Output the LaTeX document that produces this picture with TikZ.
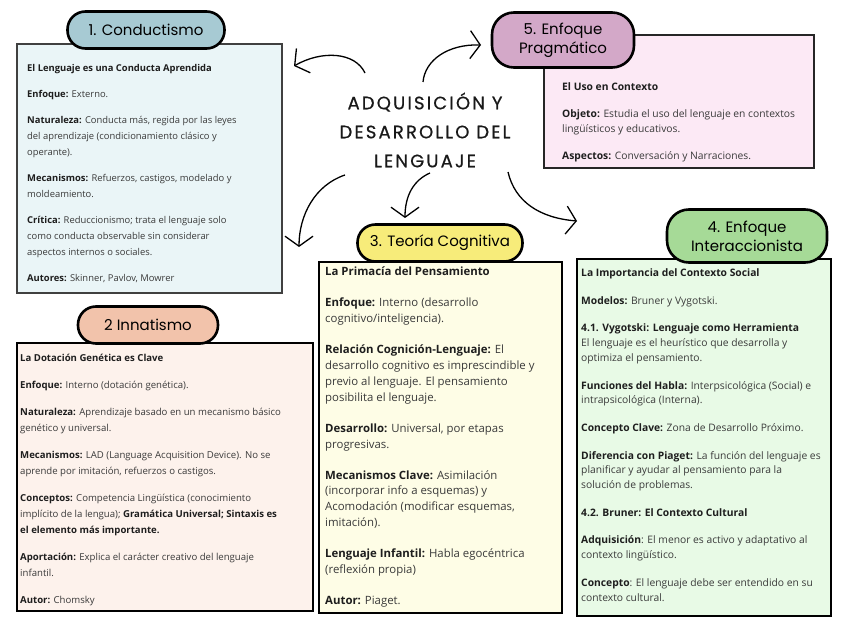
\documentclass[tikz,border=0pt]{standalone}
\usepackage{fontspec}
\setmainfont{Open Sans}
\newfontfamily\hand{Poppins}
\newfontfamily\bigtitle[LetterSpace=12,FakeBold=0.6]{Poppins}
\usetikzlibrary{arrows.meta}
\definecolor{bgA}{HTML}{EAF5F7}\definecolor{pA}{HTML}{A7CAD3}
\definecolor{bgB}{HTML}{FDF2EC}\definecolor{pB}{HTML}{F2C3AB}
\definecolor{bgC}{HTML}{FEFDE6}\definecolor{pC}{HTML}{F7EC7A}
\definecolor{bgD}{HTML}{E8FAE6}\definecolor{pD}{HTML}{A6DA97}
\definecolor{bgE}{HTML}{FCE9F5}\definecolor{pE}{HTML}{D3A8C8}
\definecolor{bodytxt}{HTML}{3A3A3A}
\definecolor{boldtxt}{HTML}{1E1E1E}
\newcommand{\lab}[1]{\textbf{\color{boldtxt}#1}}
\begin{document}
\begin{tikzpicture}[x=1pt,y=-1pt,
  boxnode/.style={draw=#1, anchor=north west, inner sep=0pt, line width=1.6pt},
  pill/.style={draw=black, line width=2.6pt, inner sep=0pt, align=center, text=black,
     font=\hand\fontsize{15}{18}\selectfont},
  txt/.style={anchor=north west, inner sep=0pt, align=left, text=bodytxt},
  arr/.style={line width=1.3pt, -{Straight Barb[length=10pt,width=28pt,line width=1.3pt]}}]
\useasboundingbox (0,0) rectangle (848,636);
\fill[white] (0,0) rectangle (848,636);

% boxes
\node[boxnode=black!75, fill=bgA, minimum width=265pt, minimum height=249pt] (b1) at (16,43) {};
\node[boxnode=black, fill=bgB, minimum width=296pt, minimum height=268pt, line width=2.2pt] (b2) at (16,342) {};
\node[boxnode=black, fill=bgC, minimum width=243pt, minimum height=351pt, line width=2.2pt] (b3) at (318,261) {};
\node[boxnode=black, fill=bgD, minimum width=254pt, minimum height=357pt, line width=2.2pt] (b4) at (576,258) {};
\node[boxnode=black!85, fill=bgE, minimum width=270pt, minimum height=133pt, line width=1.8pt] (b5) at (543,34) {};

% pills
\node[pill, fill=pA, minimum width=157pt, minimum height=37pt, rounded corners=18pt] (p1) at (146,30) {1. Conductismo};
\node[pill, fill=pB, minimum width=140pt, minimum height=37pt, rounded corners=18pt] (p2) at (148,325) {2 Innatismo};
\node[pill, fill=pC, minimum width=165pt, minimum height=37pt, rounded corners=18pt] (p3) at (440,243) {3. Teoría Cognitiva};
\node[pill, fill=pD, minimum width=160pt, minimum height=53pt, rounded corners=22pt, font=\hand\fontsize{15}{19}\selectfont] (p4) at (747,236) {4. Enfoque\\Interaccionista};
\node[pill, fill=pE, minimum width=142pt, minimum height=55pt, rounded corners=22pt, font=\hand\fontsize{15}{19}\selectfont] (p5) at (563,40) {5. Enfoque\\Pragmático};

% center title
\node[align=center, inner sep=0pt, font=\bigtitle\fontsize{18}{29}\selectfont, text=black!90] (title) at (425,130) {ADQUISICIÓN Y\\DESARROLLO DEL\\LENGUAJE};

% box texts
\node[txt, font=\fontsize{9.4}{16}\selectfont] (t1) at (27,64) {%
\lab{El Lenguaje es una Conducta Aprendida}\\[10pt]
\lab{Enfoque:} Externo.\\[10pt]
\lab{Naturaleza:} Conducta más, regida por las leyes\\
del aprendizaje (condicionamiento clásico y\\
operante).\\[10pt]
\lab{Mecanismos:} Refuerzos, castigos, modelado y\\
moldeamiento.\\[10pt]
\lab{Crítica:} Reduccionismo; trata el lenguaje solo\\
como conducta observable sin considerar\\
aspectos internos o sociales.\\[10pt]
\lab{Autores:} Skinner, Pavlov, Mowrer};

\node[txt, font=\fontsize{9.6}{16}\selectfont] (t2) at (20,354) {%
\lab{La Dotación Genética es Clave}\\[11pt]
\lab{Enfoque:} Interno (dotación genética).\\[11pt]
\lab{Naturaleza:} Aprendizaje basado en un mecanismo básico\\
genético y universal.\\[11pt]
\lab{Mecanismos:} LAD (Language Acquisition Device). No se\\
aprende por imitación, refuerzos o castigos.\\[11pt]
\lab{Conceptos:} Competencia Lingüística (conocimiento\\
implícito de la lengua); \lab{Gramática Universal; Sintaxis es}\\
\lab{el elemento más importante.}\\[11pt]
\lab{Aportación:} Explica el carácter creativo del lenguaje\\
infantil.\\[11pt]
\lab{Autor:} Chomsky};

\node[txt, font=\fontsize{11.4}{15.9}\selectfont] (t3) at (325,267) {%
\lab{La Primacía del Pensamiento}\\[15pt]
\lab{Enfoque:} Interno (desarrollo\\
cognitivo/inteligencia).\\[15pt]
\lab{Relación Cognición-Lenguaje:} El\\
desarrollo cognitivo es imprescindible y\\
previo al lenguaje. El pensamiento\\
posibilita el lenguaje.\\[15pt]
\lab{Desarrollo:} Universal, por etapas\\
progresivas.\\[15pt]
\lab{Mecanismos Clave:} Asimilación\\
(incorporar info a esquemas) y\\
Acomodación (modificar esquemas,\\
imitación).\\[15pt]
\lab{Lenguaje Infantil:} Habla egocéntrica\\
(reflexión propia)\\[15pt]
\lab{Autor:} Piaget.};

\node[txt, font=\fontsize{10.3}{14.7}\selectfont] (t4) at (581,268.5) {%
\lab{La Importancia del Contexto Social}\\[13pt]
\lab{Modelos:} Bruner y Vygotski.\\[13pt]
\lab{4.1. Vygotski: Lenguaje como Herramienta}\\
El lenguaje es el heurístico que desarrolla y\\
optimiza el pensamiento.\\[13pt]
\lab{Funciones del Habla:} Interpsicológica (Social) e\\
intrapsicológica (Interna).\\[13pt]
\lab{Concepto Clave:} Zona de Desarrollo Próximo.\\[13pt]
\lab{Diferencia con Piaget:} La función del lenguaje es\\
planificar y ayudar al pensamiento para la\\
solución de problemas.\\[13pt]
\lab{4.2. Bruner: El Contexto Cultural}\\[13pt]
\lab{Adquisición}: El menor es activo y adaptativo al\\
contexto lingüístico.\\[13pt]
\lab{Concepto}: El lenguaje debe ser entendido en su\\
contexto cultural.};

\node[txt, font=\fontsize{10.3}{15}\selectfont] (t5) at (562,82) {%
\lab{El Uso en Contexto}\\[12pt]
\lab{Objeto:} Estudia el uso del lenguaje en contextos\\
lingüísticos y educativos.\\[12pt]
\lab{Aspectos:} Conversación y Narraciones.};

% arrows
\coordinate (s1) at (365,73); \coordinate (e1) at (294,66);
\coordinate (s2) at (423,82); \coordinate (e2) at (481,45);
\coordinate (s3) at (345,175); \coordinate (e3) at (299,247);
\coordinate (s4) at (430,173); \coordinate (e4) at (405,218);
\coordinate (s5) at (508,172); \coordinate (e5) at (577,221);
\draw[arr] (s1) .. controls (355,52) and (322,50) .. (e1);
\draw[arr] (s2) .. controls (425,60) and (448,44) .. (e2);
\draw[arr] (s3) .. controls (315,185) and (299,215) .. (e3);
\draw[arr] (s4) .. controls (414,180) and (405,195) .. (e4);
\draw[arr] (s5) .. controls (515,202) and (540,218) .. (e5);
\end{tikzpicture}
\end{document}
